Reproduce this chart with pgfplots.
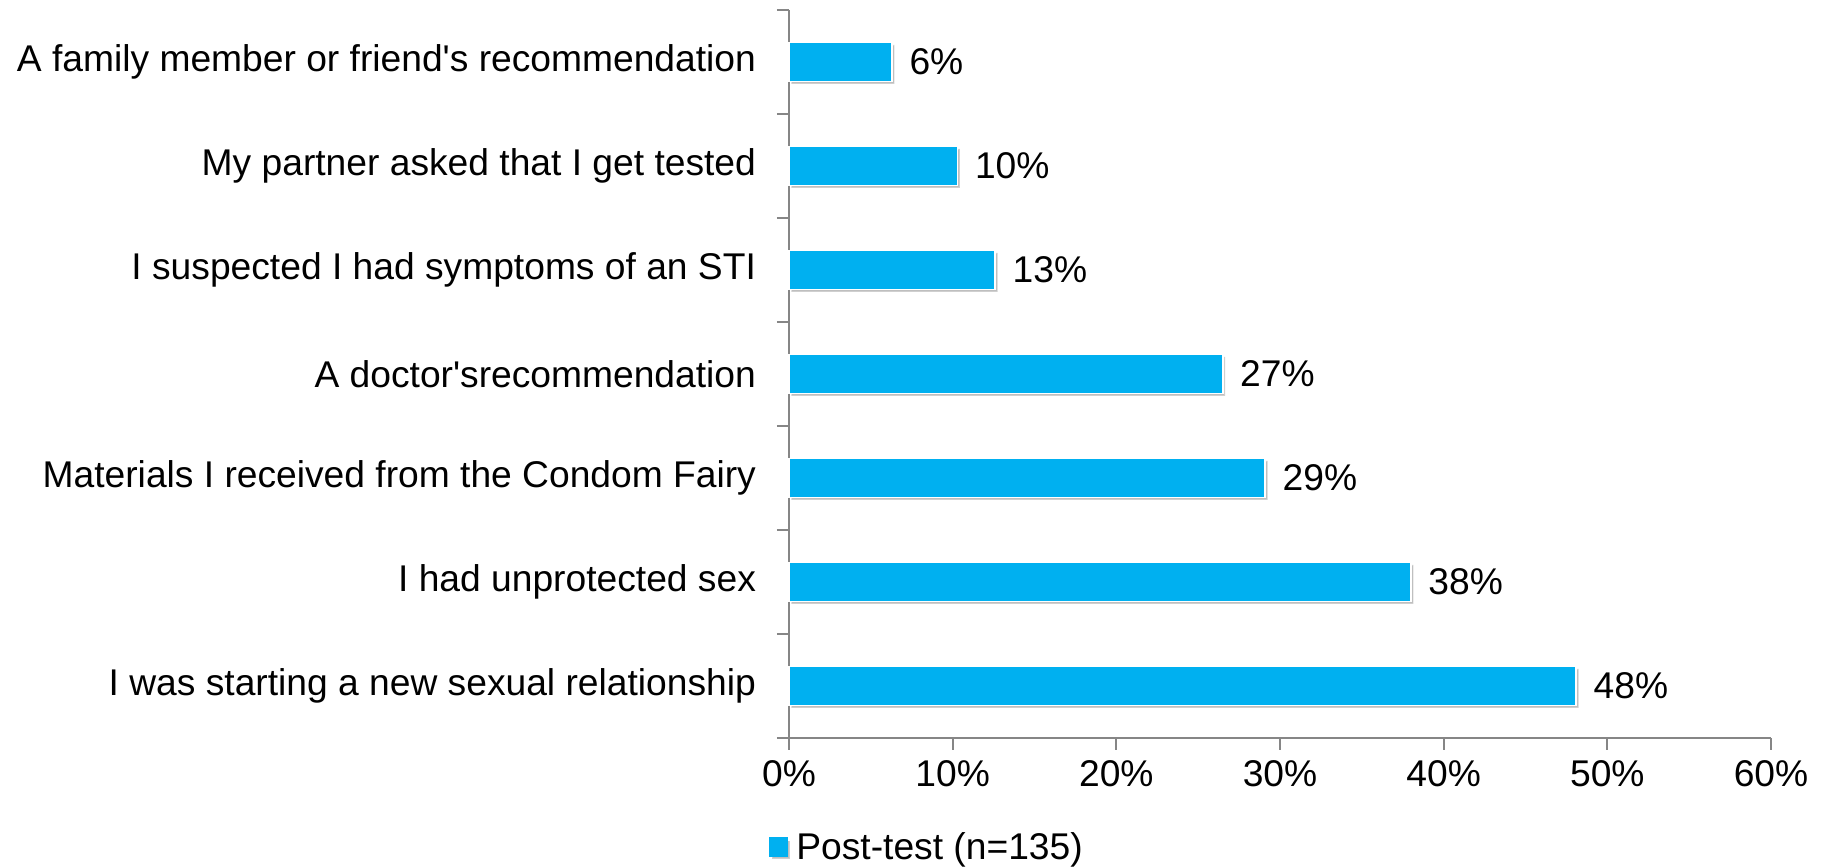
\documentclass[border=0pt]{standalone}
\usepackage{fontspec}
\setmainfont{Liberation Sans}[Ligatures=TeXOff]
\usepackage{pgfplots}
\pgfplotsset{compat=1.18}
\usetikzlibrary{shadows}
\definecolor{barblue}{HTML}{00B0F0}
\definecolor{axgray}{HTML}{868686}
\newcommand{\lblfont}{\fontsize{18.6pt}{22pt}\selectfont}
\begin{document}
\begin{tikzpicture}
\useasboundingbox (-394.5pt,-64.5pt) rectangle (519.5pt,369pt);
\begin{axis}[
  at={(0,0)}, anchor=south west,
  scale only axis,
  width=491pt, height=364pt,
  xbar, bar width=19.5pt,
  xmin=0, xmax=60,
  ymin=-0.5, ymax=6.5,
  axis x line*=bottom, axis y line*=left,
  axis line style={axgray, line width=1pt},
  xtick={0,10,...,60},
  xticklabel={\pgfmathprintnumber{\tick}\%},
  tick style={axgray, line width=1pt},
  tick align=outside,
  major tick length=6pt,
  ytick={-0.5,0.5,...,6.5},
  yticklabels={},
  extra y ticks={0,...,6},
  extra y tick labels={I was starting a new sexual relationship,I had unprotected sex,Materials I received from the Condom Fairy,A doctor'srecommendation,I suspected I had symptoms of an STI,My partner asked that I get tested,A family member or friend's recommendation},
  extra y tick style={major tick length=0pt, yticklabel style={xshift=-13pt}},
  tick label style={font=\lblfont, text=black},
  xticklabel style={yshift=-1.6pt},
  /pgf/number format/assume math mode=true,
  point meta=explicit symbolic,
  nodes near coords={\pgfplotspointmeta\%},
  nodes near coords style={font=\lblfont, text=black, anchor=west, xshift=5pt},
  legend style={at={(-0.021,-0.15)}, anchor=west, draw=none, fill=none, font=\lblfont, inner sep=0pt},
  legend cell align=left,
  clip=false,
]
\addplot[fill=barblue, draw=white, line width=0.8pt,
  drop shadow={shadow xshift=1.2pt, shadow yshift=-1.2pt, fill=black, opacity=0.25},
  legend image code/.code={\fill[barblue] (0pt,-4.5pt) rectangle (9pt,4.5pt); \path (11pt,0pt);}]
  coordinates {
  (48.1,0) [48]
  (38.0,1) [38]
  (29.1,2) [29]
  (26.5,3) [27]
  (12.6,4) [13]
  (10.3,5) [10]
  (6.3,6) [6]
};
\addlegendentry{Post-test (n=135)}
\end{axis}
\end{tikzpicture}
\end{document}
